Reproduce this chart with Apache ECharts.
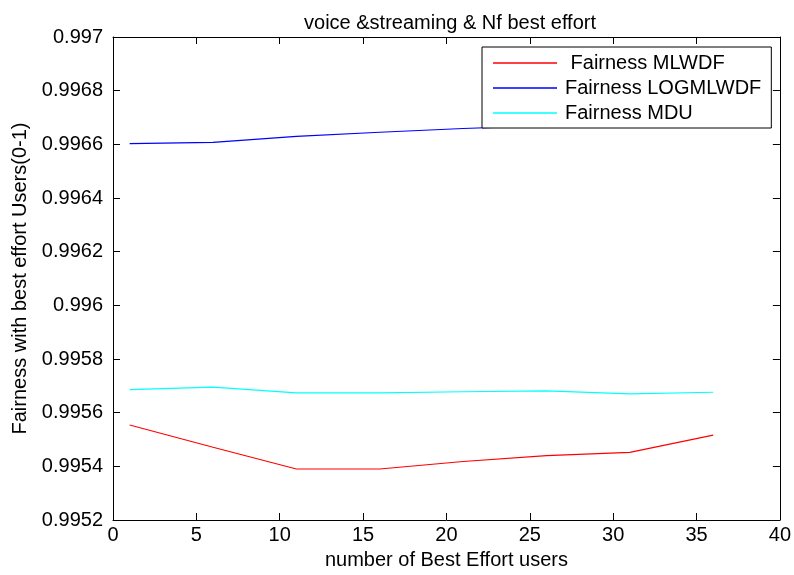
<!DOCTYPE html>
<html>
<head>
<meta charset="utf-8">
<script src="https://cdn.jsdelivr.net/npm/echarts@6/dist/echarts.min.js"></script>
<style>
html,body{margin:0;padding:0;background:#fff;}
#chart{width:794px;height:575px;}
</style>
</head>
<body>
<div id="chart"></div>
<script>
var xValues = [1, 6, 11, 16, 21, 26, 31, 36];
var mlwdf = [0.995554, 0.995471, 0.99539, 0.99539, 0.995418, 0.99544, 0.995452, 0.995516];
var logmlwdf = [0.996603, 0.996607, 0.99663, 0.996645, 0.996659, 0.99667, 0.99668, 0.99669];
var mdu = [0.995686, 0.995695, 0.995674, 0.995674, 0.995678, 0.995681, 0.99567, 0.995676];
var xTicks = [0, 5, 10, 15, 20, 25, 30, 35, 40];
var yTicks = [0.9952, 0.9954, 0.9956, 0.9958, 0.996, 0.9962, 0.9964, 0.9966, 0.9968, 0.997];
var seriesNames = [' Fairness MLWDF', 'Fairness LOGMLWDF', 'Fairness MDU'];
var seriesColors = ['#ff0000', '#0000ff', '#00ffff'];

function pairs(ys) { return xValues.map(function (x, i) { return [x, ys[i]]; }); }
var FONT = 'Liberation Sans, Arial, sans-serif';
var txt = { color: '#000', fontFamily: FONT, fontSize: 20 };
function fmtY(v) { return parseFloat(Number(v).toFixed(4)).toString(); }

var chart = echarts.init(document.getElementById('chart'), null, { renderer: 'canvas' });
var axisBase = {
  axisLine: { show: true, onZero: false, lineStyle: { color: '#000', width: 1 } },
  splitLine: { show: false }
};
var option = {
  backgroundColor: '#fff',
  animation: false,
  title: {
    text: 'voice &streaming & Nf best effort',
    left: 445, top: 8, textAlign: 'center',
    textStyle: { color: '#000', fontFamily: FONT, fontSize: 20, fontWeight: 'normal' }
  },
  grid: { left: 113, right: 12, top: 37, bottom: 53, containLabel: false },
  legend: {
    orient: 'vertical', left: 482, top: 47,
    padding: [6, 10, 5, 11], itemGap: 5, itemWidth: 64, itemHeight: 1.3,
    icon: 'rect',
    backgroundColor: '#fff', borderColor: '#000', borderWidth: 1, borderRadius: 0,
    textStyle: { color: '#000', fontFamily: FONT, fontSize: 20, lineHeight: 20, padding: [0, 0, 0, 3] },
    data: seriesNames
  },
  xAxis: [
    Object.assign({}, axisBase, {
      type: 'value', min: xTicks[0], max: xTicks[xTicks.length - 1], interval: 5,
      position: 'bottom',
      name: 'number of Best Effort users', nameLocation: 'middle', nameGap: 30,
      nameTextStyle: txt,
      axisTick: { show: true, inside: true, length: 7, lineStyle: { color: '#000' } },
      axisLabel: Object.assign({ margin: 5 }, txt)
    }),
    Object.assign({}, axisBase, {
      type: 'value', min: xTicks[0], max: xTicks[xTicks.length - 1], interval: 5,
      position: 'top',
      axisTick: { show: true, inside: true, length: 7, lineStyle: { color: '#000' } },
      axisLabel: { show: false }
    })
  ],
  yAxis: [
    Object.assign({}, axisBase, {
      type: 'value', min: yTicks[0], max: yTicks[yTicks.length - 1],
      position: 'left',
      name: 'Fairness with best effort Users(0-1)', nameLocation: 'middle', nameGap: 80,
      nameTextStyle: txt,
      axisTick: { show: true, inside: true, length: 7, customValues: yTicks, lineStyle: { color: '#000' } },
      axisLabel: Object.assign({ margin: 10, customValues: yTicks, formatter: fmtY }, txt)
    }),
    Object.assign({}, axisBase, {
      type: 'value', min: yTicks[0], max: yTicks[yTicks.length - 1],
      position: 'right',
      axisTick: { show: true, inside: true, length: 7, customValues: yTicks, lineStyle: { color: '#000' } },
      axisLabel: { show: false, customValues: yTicks }
    })
  ],
  series: [mlwdf, logmlwdf, mdu].map(function (ys, i) {
    return {
      name: seriesNames[i], type: 'line', data: pairs(ys),
      xAxisIndex: 0, yAxisIndex: 0,
      symbol: 'none', showSymbol: false,
      lineStyle: { color: seriesColors[i], width: 1.2 },
      itemStyle: { color: seriesColors[i] }
    };
  })
};
chart.setOption(option);
</script>
</body>
</html>
